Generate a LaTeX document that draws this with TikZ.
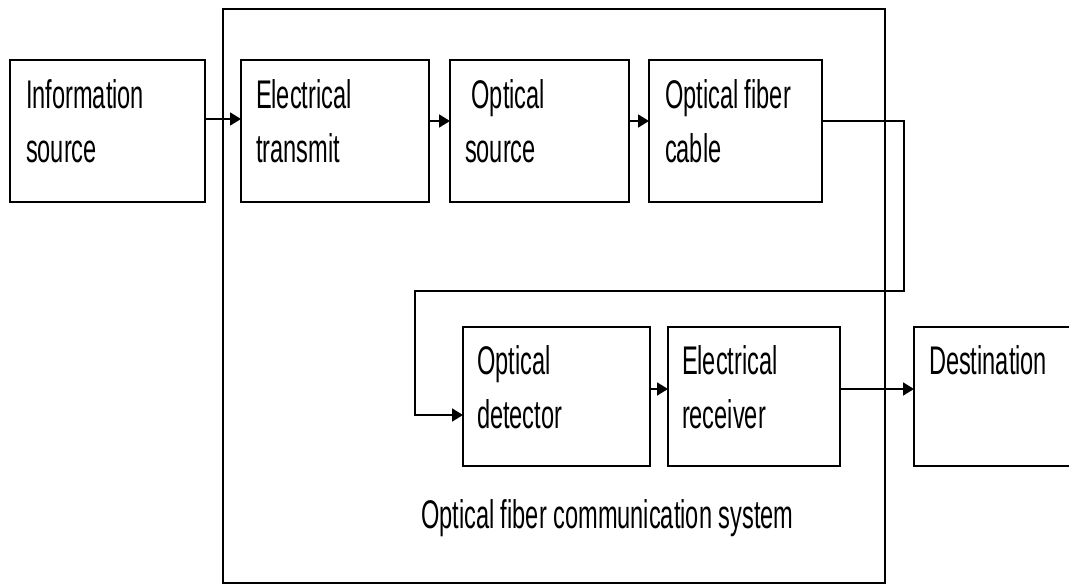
\documentclass[tikz,border=0pt]{standalone}
\usepackage{fontspec}
\setmainfont{Liberation Sans}
\usetikzlibrary{arrows.meta}
% narrow two-line block text, left aligned, baseline on the first line
\newcommand{\blocktext}[1]{\scalebox{0.59}[1]{\fontsize{40}{54}\selectfont\begin{tabular}[t]{@{}l@{}}#1\end{tabular}}}
\tikzset{
  blk/.style={draw=black, line width=1.8pt, anchor=north west, inner sep=0pt, outer sep=0pt},
  sysbox/.style={draw=black, line width=1.4pt, anchor=north west, inner sep=0pt, outer sep=0pt},
  txt/.style={anchor=base west, inner sep=0pt, outer sep=0pt, text=black},
  arr/.style={draw=black, line width=1.8pt, -{Triangle[length=11pt,width=13pt]}},
}
\begin{document}
\begin{tikzpicture}[x=1pt, y=-1pt]
  \useasboundingbox (0,0) rectangle (1069,585);
  \clip (0,0) rectangle (1069,585);
  \fill[white] (0,0) rectangle (1069,585);

  % enclosing system box
  \node[sysbox, minimum width=662pt, minimum height=574pt] (sys) at (223,9) {};

  % transmitter chain
  \node[blk, minimum width=195pt, minimum height=142pt] (info) at (10,60) {};
  \node[blk, minimum width=188pt, minimum height=142pt] (etx)  at (241,60) {};
  \node[blk, minimum width=179pt, minimum height=142pt] (osrc) at (450,60) {};
  \node[blk, minimum width=173pt, minimum height=142pt] (fib)  at (649,60) {};

  % receiver chain
  \node[blk, minimum width=187pt, minimum height=139pt] (det)  at (463,327) {};
  \node[blk, minimum width=172pt, minimum height=139pt] (rcv)  at (668,327) {};
  \node[blk, minimum width=200pt, minimum height=139pt] (dest) at (914,327) {};

  % labels
  \node[txt] (info-t) at (26,109)  {\blocktext{Information\\source}};
  \node[txt] (etx-t)  at (256,109) {\blocktext{Electrical\\transmit}};
  \node[txt] (osrc-t) at (465,109) {\blocktext{~Optical\\source}};
  \node[txt] (fib-t)  at (665,109) {\blocktext{Optical fiber\\cable}};
  \node[txt] (det-t)  at (477,375) {\blocktext{Optical\\detector}};
  \node[txt] (rcv-t)  at (682,375) {\blocktext{Electrical\\receiver}};
  \node[txt] (dest-t) at (929,375) {\blocktext{Destination}};
  \node[txt] (sys-t)  at (421,528) {\blocktext{Optical fiber communication system}};

  % signal levels and the fiber route
  \coordinate (r1) at (0,119);
  \coordinate (r2) at (0,121);
  \coordinate (r3) at (0,389);
  \coordinate (c1) at (904,121);
  \coordinate (c2) at (904,291);
  \coordinate (c3) at (415,291);
  \coordinate (c4) at (415,415);

  % connectors
  \draw[arr] (info.east |- r1) -- (etx.west |- r1);
  \draw[arr] (etx.east |- r2) -- (osrc.west |- r2);
  \draw[arr] (osrc.east |- r2) -- (fib.west |- r2);
  \draw[arr] (fib.east |- c1) -- (c1) -- (c2) -- (c3) -- (c4) -- (det.west |- c4);
  \draw[arr] (det.east |- r3) -- (rcv.west |- r3);
  \draw[arr] (rcv.east |- r3) -- (dest.west |- r3);
\end{tikzpicture}
\end{document}
